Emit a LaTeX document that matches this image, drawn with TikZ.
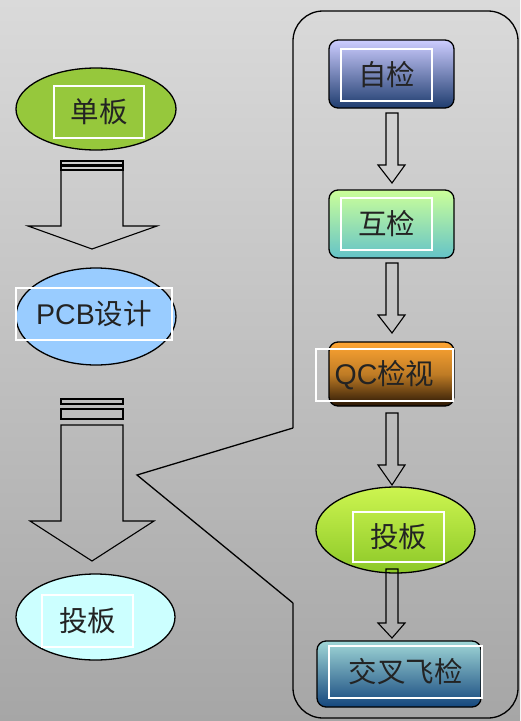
\documentclass[tikz,border=0pt]{standalone}
\usepackage{fontspec}
\setmainfont{Noto Sans CJK SC}
\newfontfamily\lat{Liberation Sans}
\usetikzlibrary{shapes.geometric}
\definecolor{bgtop}{RGB}{218,218,218}
\definecolor{bgbot}{RGB}{166,166,166}
\definecolor{txt}{RGB}{35,35,35}
\definecolor{gA}{RGB}{150,200,60}
\definecolor{bA}{RGB}{153,204,255}
\definecolor{cA}{RGB}{204,255,255}
\definecolor{zjT}{RGB}{205,205,255}
\definecolor{zjB}{RGB}{30,60,110}
\definecolor{hjT}{RGB}{204,255,153}
\definecolor{hjB}{RGB}{100,195,200}
\definecolor{qcT}{RGB}{255,165,50}
\definecolor{qcB}{RGB}{40,22,5}
\definecolor{tbT}{RGB}{205,245,80}
\definecolor{tbB}{RGB}{140,200,40}
\definecolor{jcT}{RGB}{160,215,215}
\definecolor{jcB}{RGB}{20,70,125}
\tikzset{
  oval/.style={ellipse, draw=black, line width=1.3pt, inner sep=0pt},
  rbox/.style={rectangle, rounded corners=9pt, draw=black, line width=1.3pt, inner sep=0pt},
  lbl/.style={rectangle, draw=white, line width=1.1pt, inner sep=0pt, text=txt,
              font=\fontsize{28.5}{30}\selectfont},
  barrow/.style={draw=black, line width=1.1pt, line join=miter},
}
\begin{document}
\begin{tikzpicture}[x=1pt,y=-1pt]
\useasboundingbox (0,0) rectangle (520,721);
\shade[top color=bgtop, bottom color=bgbot] (0,0) rectangle (520,721);

% callout frame
\draw[line width=1.3pt, rounded corners=30pt] (293,428) -- (293,11) -- (518,11) -- (518,718) -- (293,718) -- (293,603);
\draw[line width=1.3pt, line join=miter] (293,428) -- (137,475) -- (293,603);

% left column
\node[oval, fill=gA, minimum width=160, minimum height=82] (db) at (96,109) {};
\node[lbl, minimum width=90, minimum height=52] (dbl) at (99,112) {单板};
\node[oval, fill=bA, minimum width=160, minimum height=97] (pcb) at (96,316.5) {};
\node[lbl, minimum width=156, minimum height=52] (pcbl) at (94,314) {{\lat PCB}设计};
\node[oval, fill=cA, minimum width=159, minimum height=86] (tb) at (95.5,617) {};
\node[lbl, minimum width=91, minimum height=52] (tbl) at (87.5,621) {投板};

% big block arrows
\draw[barrow] (61,161) rectangle (123,164.5);
\draw[barrow] (61,166) rectangle (123,170);
\draw[barrow] (61,170) -- (61,226) -- (28,226) -- (92,249) -- (157,226) -- (123,226) -- (123,170) -- cycle;
\draw[barrow] (61,399) rectangle (123,404);
\draw[barrow] (61,409) rectangle (123,419);
\draw[barrow] (61,425) -- (61,521) -- (30,521) -- (92,561) -- (154,521) -- (123,521) -- (123,425) -- cycle;

% right column
\node[rbox, top color=zjT, bottom color=zjB, minimum width=125, minimum height=68] (zj) at (391.5,74) {};
\node[lbl, minimum width=91, minimum height=52] (zjl) at (386.5,75) {自检};
\node[rbox, top color=hjT, bottom color=hjB, minimum width=125, minimum height=68] (hj) at (391.5,224) {};
\node[lbl, minimum width=91, minimum height=52] (hjl) at (386.5,224) {互检};
\node[rbox, top color=qcT, bottom color=qcB, middle color=qcT!75!black, minimum width=125, minimum height=64] (qc) at (391.5,374) {};
\node[lbl, minimum width=137, minimum height=52] (qcl) at (384.5,375) {{\lat QC}检视};
\node[oval, top color=tbT, bottom color=tbB, minimum width=159, minimum height=86] (tb2) at (395.5,530) {};
\node[lbl, minimum width=91, minimum height=50] (tb2l) at (398.5,537) {投板};
\node[rbox, top color=jcT, bottom color=jcB, minimum width=164, minimum height=66] (jc) at (399,674) {};
\node[lbl, minimum width=153, minimum height=52] (jcl) at (405.5,672) {交叉飞检};

% small block arrows
\foreach \t/\h/\p in {113/165/183, 263/315/333, 413/465/485, 569/623/638}{
  \draw[barrow] (386,\t) -- (386,\h) -- (378,\h) -- (392,\p) -- (405,\h) -- (398,\h) -- (398,\t) -- cycle;
}
\end{tikzpicture}
\end{document}
